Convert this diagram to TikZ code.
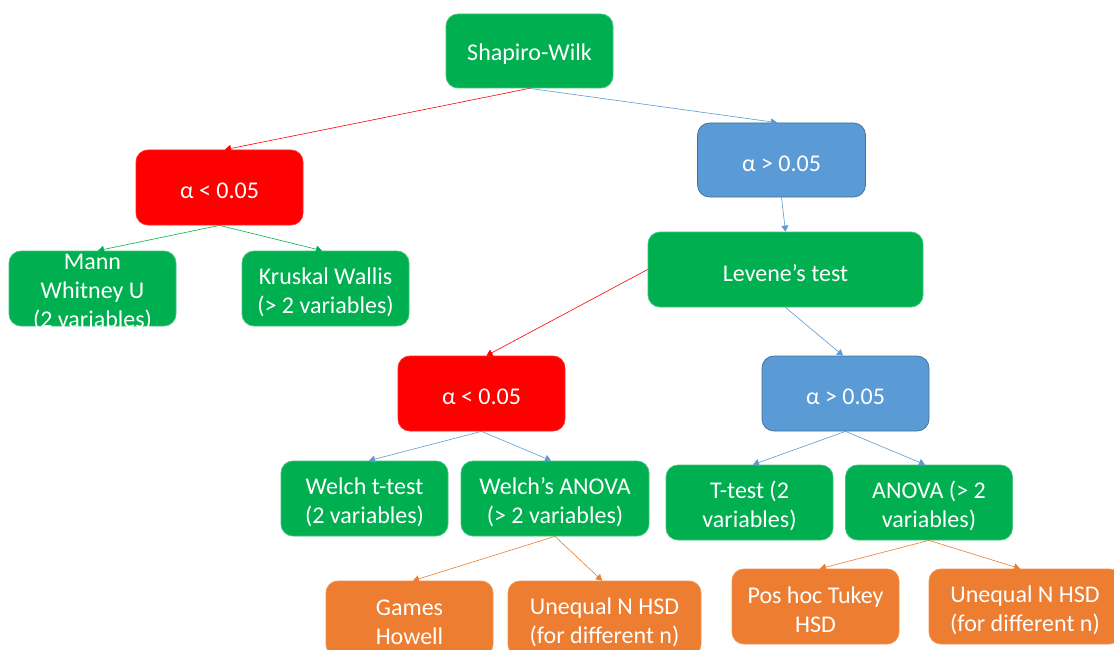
\documentclass[tikz,border=0pt]{standalone}
\usepackage{fontspec}
\setmainfont{Carlito}
\usetikzlibrary{arrows.meta}
\definecolor{cgreen}{HTML}{00B050}
\definecolor{cred}{HTML}{FF0000}
\definecolor{cblue}{HTML}{5B9BD5}
\definecolor{cblueborder}{HTML}{41719C}
\definecolor{corange}{HTML}{ED7D31}
\begin{document}
\begin{tikzpicture}[x=1pt,y=-1pt,
  box/.style={rounded corners=12pt, minimum width=167pt, minimum height=75pt, inner sep=0pt,
    line width=0.75pt},
  txt/.style={align=center, text=white, font=\fontsize{24}{29}\selectfont, inner sep=0pt, yshift=-3.5pt},
  gbox/.style={box, fill=cgreen, draw=cgreen!75!white},
  rbox/.style={box, fill=cred, draw=cred!85!white},
  bbox/.style={box, fill=cblue, draw=cblueborder},
  obox/.style={box, fill=corange, draw=corange!85!white},
  conn/.style={line width=0.6pt, -{Triangle[width=7pt,length=6pt]}},
]
\useasboundingbox (0,0) rectangle (1114,650);
\clip (0,0) rectangle (1114,650);
\fill[white] (0,0) rectangle (1114,650);

% nodes
\node[gbox, minimum height=74pt, label={[txt]center:Shapiro-Wilk}] (S) at (529.5,51) {};
\node[rbox, label={[txt]center:α < 0.05}] (L1) at (219.5,187.5) {};
\node[bbox, minimum width=168pt, minimum height=74pt, label={[txt]center:α > 0.05}] (R1) at (781.5,160) {};
\node[gbox, label={[txt]center:Mann\\Whitney U\\(2 variables)}] (MW) at (92.5,288.5) {};
\node[gbox, label={[txt]center:Kruskal Wallis\\(> 2 variables)}] (KW) at (325.5,288.5) {};
\node[gbox, minimum width=275pt, label={[txt]center:Levene’s test}] (LV) at (785.5,269.5) {};
\node[rbox, label={[txt]center:α < 0.05}] (L2) at (481.5,393.5) {};
\node[bbox, label={[txt]center:α > 0.05}] (R2) at (845.5,393.5) {};
\node[gbox, label={[txt]center:Welch t-test\\(2 variables)}] (WT) at (364.5,498.5) {};
\node[gbox, minimum width=188pt, label={[txt]center:Welch’s ANOVA\\(> 2 variables)}] (WA) at (555,498.5) {};
\node[gbox, label={[txt]center:T-test (2\\variables)}] (TT) at (749.5,502.5) {};
\node[gbox, label={[txt]center:ANOVA (> 2\\variables)}] (AN) at (929,502.5) {};
\node[obox, label={[txt]center:Games\\Howell}] (GH) at (409.5,618.5) {};
\node[obox, minimum width=193pt, label={[txt]center:Unequal N HSD\\(for different n)}] (UN1) at (604.5,618.5) {};
\node[obox, label={[txt]center:Pos hoc Tukey\\HSD}] (PH) at (815.5,606.5) {};
\node[obox, minimum width=192pt, label={[txt]center:Unequal N HSD\\(for different n)}] (UN2) at (1025,606.5) {};

% connectors
\draw[conn, cred] (S.south) -- ([xshift=5.5pt]L1.north);
\draw[conn, cblue] (S.south) -- ([xshift=-4.5pt]R1.north);
\draw[conn, cblue] (R1.south) -- (LV.north);
\draw[conn, cred] (LV.west) -- ([xshift=5pt]L2.north);
\draw[conn, cblue] (LV.south) -- ([xshift=-2.5pt]R2.north);
\draw[conn, cgreen] (L1.south) -- ([xshift=5.5pt]MW.north);
\draw[conn, cgreen] (L1.south) -- ([xshift=-3.5pt]KW.north);
\draw[conn, cblue] (L2.south) -- ([xshift=4.5pt]WT.north);
\draw[conn, cblue] (L2.south) -- ([xshift=-4pt]WA.north);
\draw[conn, cblue] (R2.south) -- ([xshift=3.5pt]TT.north);
\draw[conn, cblue] (R2.south) -- ([xshift=-4pt]AN.north);
\draw[conn, corange] (WA.south) -- ([xshift=3.5pt]GH.north);
\draw[conn, corange] (WA.south) -- ([xshift=-2.5pt]UN1.north);
\draw[conn, corange] (AN.south) -- ([xshift=4.5pt]PH.north);
\draw[conn, corange] (AN.south) -- ([xshift=-5pt]UN2.north);
\end{tikzpicture}
\end{document}
